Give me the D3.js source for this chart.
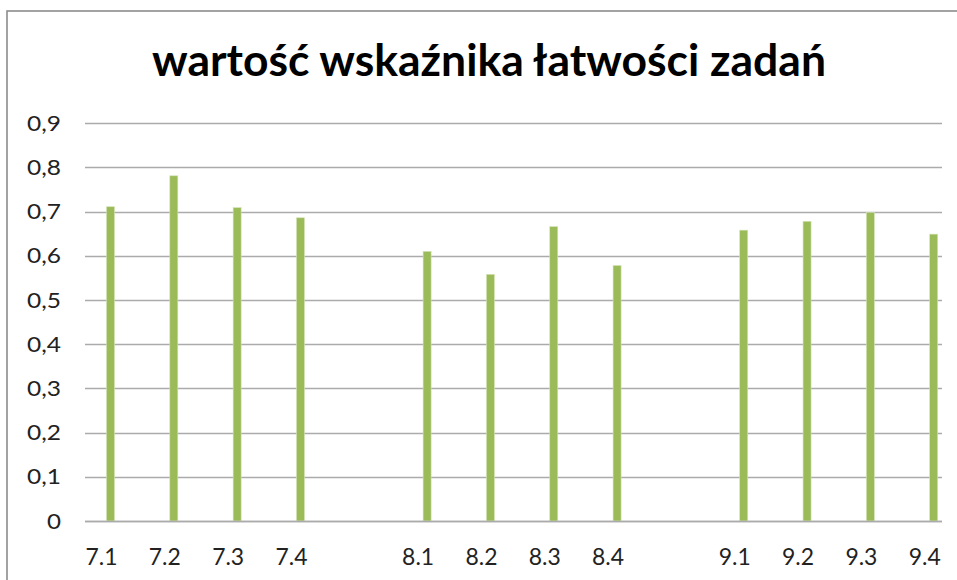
<!DOCTYPE html>
<html><head><meta charset="utf-8">
<script src="https://cdn.jsdelivr.net/npm/d3@7"></script>
<style>body{margin:0;background:#fff}svg{display:block}</style>
</head><body>
<svg id="c" width="957" height="580"></svg>
<script>
const categories = ["7.1","7.2","7.3","7.4","","8.1","8.2","8.3","8.4","","9.1","9.2","9.3","9.4"];
const values = [0.711,0.781,0.709,0.686,null,0.610,0.558,0.666,0.578,null,0.658,0.678,0.698,0.649];
const yTicks = [0,0.1,0.2,0.3,0.4,0.5,0.6,0.7,0.8,0.9];
const title = "wartość wskaźnika łatwości zadań";

const svg = d3.select("#c");
const font = "Lato, 'Open Sans', sans-serif";

svg.append("rect").attr("x",7).attr("y",11).attr("width",1100).attr("height",1100)
  .attr("fill","#fff").attr("stroke","#8c8c8c").attr("stroke-width",1.6);

const y = d3.scaleLinear().domain([0,0.9]).range([521,123.2]);
const x = d3.scalePoint().domain(d3.range(categories.length)).range([110.5,933.7]);
const gridL = 85, gridR = 942;

// gridlines
svg.append("g").selectAll("line").data(yTicks).join("line")
  .attr("x1",gridL).attr("x2",gridR)
  .attr("y1",d=>Math.round(y(d))+0.5).attr("y2",d=>Math.round(y(d))+0.5)
  .attr("stroke","#ababab").attr("stroke-width",1.6);

// y axis labels
const fmt = d => d === 0 ? "0" : d3.format(".1f")(d).replace(".",",");
svg.append("g").selectAll("text").data(yTicks).join("text")
  .attr("x",61).attr("y",d=>y(d)).attr("dy","0.36em")
  .attr("text-anchor","end").attr("font-family",font).attr("font-size",21)
  .attr("textLength",d=>d===0?14:34).attr("lengthAdjust","spacingAndGlyphs")
  .attr("fill","#222").text(fmt);

// bars
const bw = 8;
svg.append("g").selectAll("rect").data(values.map((v,i)=>({v,i})).filter(d=>d.v!=null)).join("rect")
  .attr("x",d=>x(d.i)-bw/2).attr("width",bw)
  .attr("y",d=>y(d.v)).attr("height",d=>y(0)-y(d.v))
  .attr("fill","#9bbb59").attr("stroke","#d4e3b5").attr("stroke-width",0.6);

// baseline
svg.append("line").attr("x1",gridL).attr("x2",gridR)
  .attr("y1",Math.round(y(0))+0.5).attr("y2",Math.round(y(0))+0.5)
  .attr("stroke","#ababab").attr("stroke-width",1.6);

// x labels
svg.append("g").selectAll("text").data(categories.map((c,i)=>({c,i})).filter(d=>d.c)).join("text")
  .attr("x",d=>x(d.i)-9).attr("y",564.5)
  .attr("text-anchor","middle").attr("font-family",font).attr("font-size",23)
  .attr("textLength",32).attr("lengthAdjust","spacingAndGlyphs")
  .attr("fill","#222").text(d=>d.c);

// title
svg.append("text").attr("x",152).attr("y",76)
  .attr("font-family",font).attr("font-weight","bold").attr("font-size",44)
  .attr("textLength",674).attr("lengthAdjust","spacingAndGlyphs")
  .attr("fill","#000").text(title);
</script>
</body></html>
